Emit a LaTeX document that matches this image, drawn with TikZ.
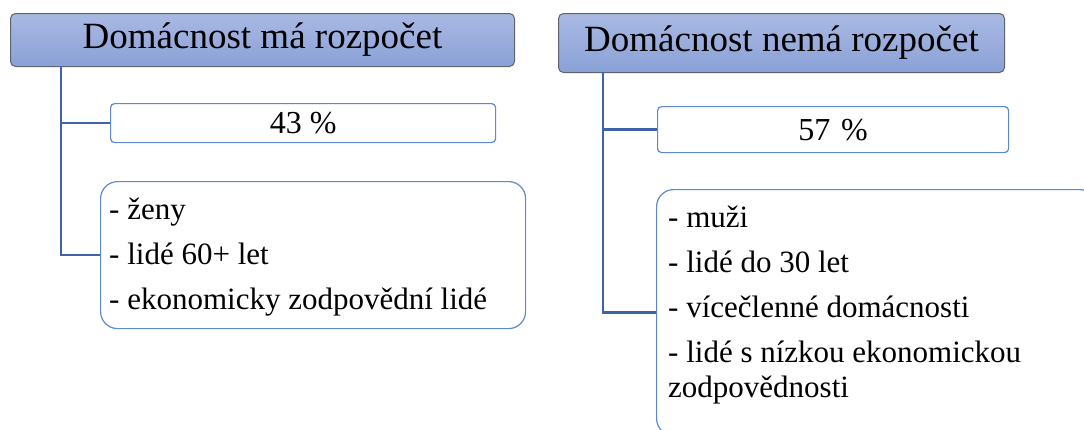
\documentclass[tikz,border=0pt]{standalone}
\usepackage{fontspec}
\setmainfont{Liberation Serif}
\usetikzlibrary{positioning}
\definecolor{hdtop}{HTML}{A9B9E3}
\definecolor{hdbot}{HTML}{8AA1D7}
\definecolor{hdline}{HTML}{5F636B}
\definecolor{conncol}{HTML}{3F63AA}
\definecolor{boxline}{HTML}{5D89D2}
\tikzset{
  header/.style={draw=hdline, line width=1pt, rounded corners=5pt, top color=hdtop, bottom color=hdbot, anchor=north west, inner sep=0pt, font=\rmfamily\fontsize{37}{42}\selectfont},
  pctbox/.style={draw=boxline, line width=1.2pt, rounded corners=4pt, fill=white, anchor=north west, inner sep=0pt, font=\rmfamily\fontsize{32}{36}\selectfont},
  listbox/.style={draw=boxline, line width=1.2pt, rounded corners=17pt, fill=white, anchor=north west, inner sep=0pt},
  listtext/.style={anchor=north west, inner sep=0pt, align=left, font=\rmfamily\fontsize{31}{35}\selectfont},
  conn/.style={draw=conncol, line width=2.6pt}
}
\begin{document}
\begin{tikzpicture}[x=1pt,y=-1pt]
\useasboundingbox (0,0) rectangle (1084,429);
\clip (0,0) rectangle (1084,429);
% left column
\node[header, minimum width=504pt, minimum height=53pt] (h1) at (10,13) {Domácnost má rozpočet};
\node[pctbox, minimum width=385pt, minimum height=39pt] (p1) at (110,103) {43 \%};
\node[listbox, minimum width=425pt, minimum height=147pt] (l1) at (100,181) {};
\node[listtext] (t1) at (109,198) {- ženy\\[10pt]- lidé 60+ let\\[10pt]- ekonomicky zodpovědní lidé};
\coordinate (v1) at (61,66);
\draw[conn] (v1) |- (l1.west);
\draw[conn] (v1 |- p1.west) -- (p1.west);
% right column
\node[header, minimum width=446pt, minimum height=59pt] (h2) at (558,13) {Domácnost nemá rozpočet};
\node[pctbox, minimum width=351pt, minimum height=46pt, text width=341pt, align=center] (p2) at (657,106) {57 \%\hspace*{10pt}};
\node[listbox, minimum width=440pt, minimum height=246pt] (l2) at (656,189) {};
\node[listtext] (t2) at (668,206) {- muži\\[10pt]- lidé do 30 let\\[10pt]- vícečlenné domácnosti\\[10pt]- lidé s nízkou ekonomickou\\zodpovědnosti};
\coordinate (v2) at (603,72);
\draw[conn] (v2) |- (l2.west);
\draw[conn] (v2 |- p2.west) -- (p2.west);
\end{tikzpicture}
\end{document}
